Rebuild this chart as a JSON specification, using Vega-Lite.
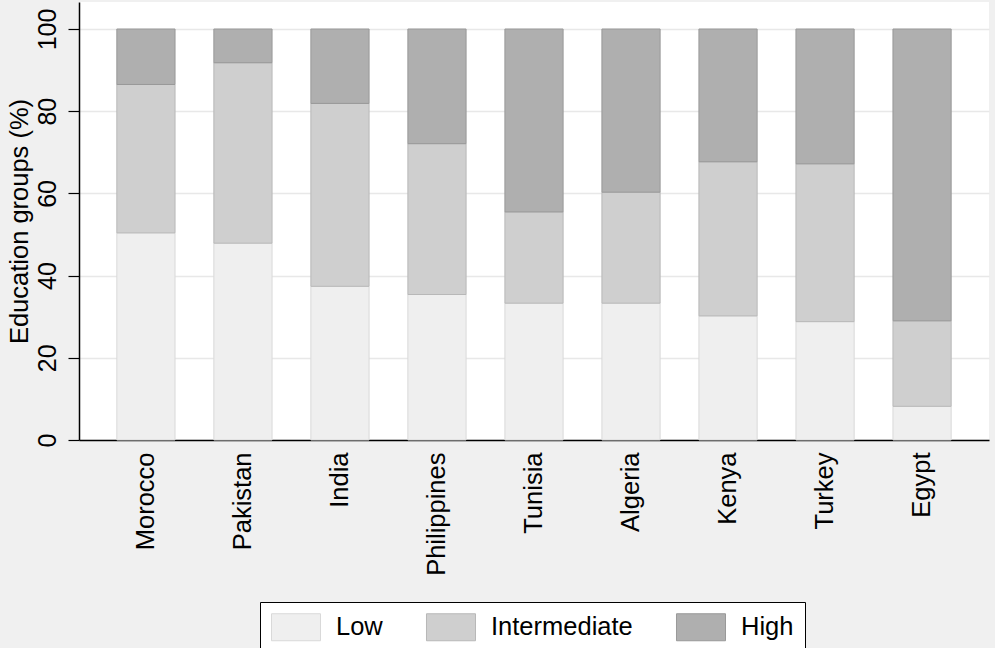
{
  "$schema": "https://vega.github.io/schema/vega-lite/v6.json",
  "width": 910,
  "height": 438,
  "autosize": {"type": "none"},
  "padding": {"left": 79, "top": 2, "right": 6, "bottom": 208},
  "background": "#f0f0f0",
  "config": {
    "font": "Liberation Sans",
    "view": {"fill": "white", "stroke": null}
  },
  "data": {
    "values": [
      {"country": "Morocco", "level": "Low", "pct": 50.4},
      {"country": "Morocco", "level": "Intermediate", "pct": 36.1},
      {"country": "Morocco", "level": "High", "pct": 13.5},
      {"country": "Pakistan", "level": "Low", "pct": 47.9},
      {"country": "Pakistan", "level": "Intermediate", "pct": 43.9},
      {"country": "Pakistan", "level": "High", "pct": 8.2},
      {"country": "India", "level": "Low", "pct": 37.4},
      {"country": "India", "level": "Intermediate", "pct": 44.5},
      {"country": "India", "level": "High", "pct": 18.1},
      {"country": "Philippines", "level": "Low", "pct": 35.4},
      {"country": "Philippines", "level": "Intermediate", "pct": 36.7},
      {"country": "Philippines", "level": "High", "pct": 27.9},
      {"country": "Tunisia", "level": "Low", "pct": 33.3},
      {"country": "Tunisia", "level": "Intermediate", "pct": 22.2},
      {"country": "Tunisia", "level": "High", "pct": 44.5},
      {"country": "Algeria", "level": "Low", "pct": 33.3},
      {"country": "Algeria", "level": "Intermediate", "pct": 27.0},
      {"country": "Algeria", "level": "High", "pct": 39.7},
      {"country": "Kenya", "level": "Low", "pct": 30.2},
      {"country": "Kenya", "level": "Intermediate", "pct": 37.5},
      {"country": "Kenya", "level": "High", "pct": 32.3},
      {"country": "Turkey", "level": "Low", "pct": 28.8},
      {"country": "Turkey", "level": "Intermediate", "pct": 38.4},
      {"country": "Turkey", "level": "High", "pct": 32.8},
      {"country": "Egypt", "level": "Low", "pct": 8.2},
      {"country": "Egypt", "level": "Intermediate", "pct": 20.8},
      {"country": "Egypt", "level": "High", "pct": 71.0}
    ]
  },
  "mark": {"type": "bar", "strokeWidth": 1},
  "encoding": {
    "x": {
      "field": "country",
      "type": "nominal",
      "sort": null,
      "scale": {"paddingInner": 0.4, "paddingOuter": 0.39},
      "axis": {
        "title": null,
        "labelAngle": -90,
        "labelAlign": "right",
        "labelBaseline": "middle",
        "labelFontSize": 25.5,
        "labelColor": "black",
        "labelPadding": 12,
        "ticks": false,
        "domainColor": "black",
        "domainWidth": 1.5,
        "grid": false
      }
    },
    "y": {
      "field": "pct",
      "type": "quantitative",
      "stack": "zero",
      "scale": {"domain": [0, 106.57], "nice": false, "zero": true},
      "axis": {
        "title": "Education groups (%)",
        "values": [0, 20, 40, 60, 80, 100],
        "labelAngle": -90,
        "labelAlign": "center",
        "labelBaseline": "alphabetic",
        "labelFontSize": 25,
        "labelColor": "black",
        "labelPadding": 13,
        "tickSize": 11,
        "tickColor": "black",
        "tickWidth": 1.2,
        "domainColor": "black",
        "domainWidth": 1.5,
        "grid": true,
        "gridColor": "#e8e8e8",
        "gridWidth": 1.5,
        "titleFontSize": 25.5,
        "titleFontWeight": "normal",
        "titleColor": "black",
        "titleAngle": -90,
        "titleAlign": "center",
        "titleBaseline": "alphabetic",
        "titleX": -52,
        "titleY": 219
      }
    },
    "color": {
      "field": "level",
      "type": "nominal",
      "sort": ["Low", "Intermediate", "High"],
      "scale": {"domain": ["Low", "Intermediate", "High"], "range": ["#efefef", "#cfcfcf", "#afafaf"]},
      "legend": {
        "title": null,
        "orient": "none",
        "legendX": 181,
        "legendY": 600,
        "direction": "horizontal",
        "columns": 3,
        "columnPadding": 41,
        "labelOffset": 26,
        "symbolOffset": 11,
        "labelFontSize": 25.5,
        "labelColor": "black",
        "symbolType": "M-1.815,-1L1.815,-1L1.815,1L-1.815,1Z",
        "symbolSize": 729,
        "symbolStrokeWidth": 1,
        "strokeColor": "black",
        "fillColor": "white",
        "padding": 11
      }
    },
    "stroke": {
      "field": "level",
      "type": "nominal",
      "sort": ["Low", "Intermediate", "High"],
      "scale": {"domain": ["Low", "Intermediate", "High"], "range": ["#d9d9d9", "#b8b8b8", "#999999"]},
      "legend": {
        "title": null,
        "orient": "none",
        "legendX": 181,
        "legendY": 600,
        "direction": "horizontal",
        "columns": 3,
        "columnPadding": 41,
        "labelOffset": 26,
        "symbolOffset": 11,
        "labelFontSize": 25.5,
        "labelColor": "black",
        "symbolType": "M-1.815,-1L1.815,-1L1.815,1L-1.815,1Z",
        "symbolSize": 729,
        "symbolStrokeWidth": 1,
        "strokeColor": "black",
        "fillColor": "white",
        "padding": 11
      }
    }
  }
}
